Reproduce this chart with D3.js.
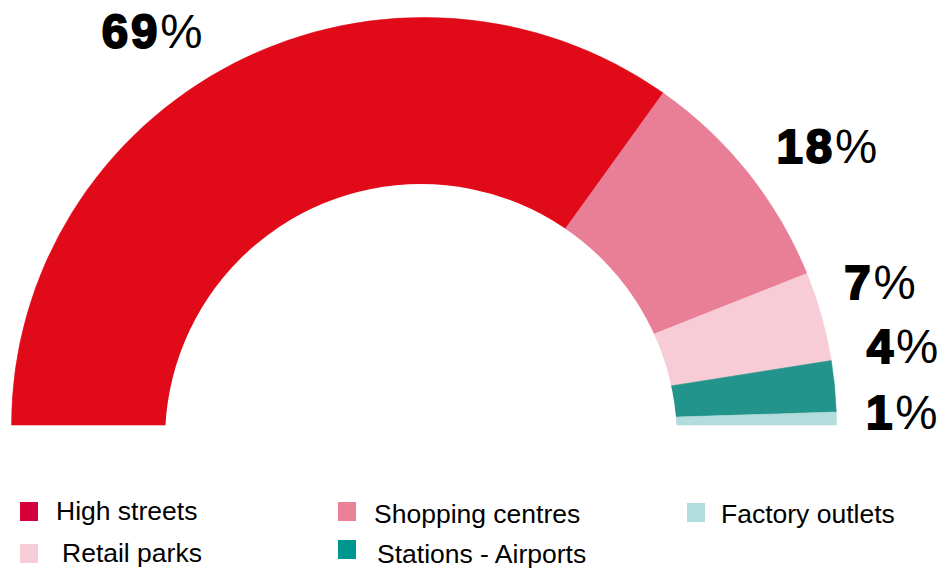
<!DOCTYPE html>
<html>
<head>
<meta charset="utf-8">
<script src="https://cdn.jsdelivr.net/npm/d3@7"></script>
<style>
  html, body { margin: 0; padding: 0; background: #ffffff; }
  svg { display: block; }
  text { font-family: "Liberation Sans", Arial, Helvetica, sans-serif; }
</style>
</head>
<body>
<svg id="chart" width="945" height="570"></svg>
<script>
// Store locations by share of sales (%)
const categories = ["High streets", "Shopping centres", "Retail parks", "Stations - Airports", "Factory outlets"];
const shares = [69, 18, 7, 4, 1];
const sliceColors = ["#e10a19", "#e97f97", "#f8ccd6", "#23948c", "#b3dcdc"];
const legendColors = ["#d6003a", "#eb8196", "#f8ccd7", "#009690", "#b3dede"];

// Legend reading order (row by row)
const legendOrder = ["High streets", "Shopping centres", "Factory outlets", "Retail parks", "Stations - Airports"];

// ---- layout ----
const W = 945, H = 570;
const cx = 424, cy = 425;
const outerR = 410;
const stretchX = 1.006, stretchY = 0.994;
const hole = { x: 421, y: 440, r: 256 };
const labelNudgeDeg = [-7.3, 3.5, -2.0, -3.95, -0.7];
const labelRadii = [479, 490, 478, 485, 478];

// legend grid: swatch and text anchors
const legendLayout = [
  { sx: 20,  sy: 502, tx: 56,  ty: 520 },
  { sx: 338, sy: 502, tx: 374, ty: 523 },
  { sx: 687, sy: 503, tx: 721, ty: 523 },
  { sx: 20,  sy: 544, tx: 62,  ty: 562 },
  { sx: 338, sy: 540, tx: 377, ty: 563 }
];

const svg = d3.select("#chart");

const data = categories.map((c, i) => ({ name: c, value: shares[i], color: sliceColors[i], i }));

const pie = d3.pie()
  .sort(null)
  .value(d => d.value)
  .startAngle(-Math.PI / 2)
  .endAngle(Math.PI / 2)
  .padAngle(0);

const arcs = pie(data);

// mask cuts the doughnut hole
const defs = svg.append("defs");
const mask = defs.append("mask").attr("id", "holeMask").attr("maskUnits", "userSpaceOnUse")
  .attr("x", 0).attr("y", 0).attr("width", W).attr("height", H);
mask.append("rect").attr("width", W).attr("height", H).attr("fill", "#fff");
mask.append("circle").attr("cx", hole.x).attr("cy", hole.y).attr("r", hole.r).attr("fill", "#000");

const arc = d3.arc().innerRadius(0).outerRadius(outerR);

const ring = svg.append("g").attr("mask", "url(#holeMask)")
  .append("g")
  .attr("transform", `translate(${cx},${cy}) scale(${stretchX},${stretchY})`);

ring.selectAll("path")
  .data(arcs)
  .join("path")
  .attr("d", arc)
  .attr("fill", d => d.data.color)
  .attr("stroke", d => d.data.color)
  .attr("stroke-width", 0.6);

// percentage labels placed around the ring
const labels = svg.append("g");
arcs.forEach((a, i) => {
  const mid = (a.startAngle + a.endAngle) / 2 + labelNudgeDeg[i] * Math.PI / 180;
  const r = labelRadii[i];
  const x = cx + Math.sin(mid) * r;
  const y = cy - Math.cos(mid) * r;
  const t = labels.append("text")
    .attr("x", x)
    .attr("y", y + 17)
    .attr("text-anchor", "middle")
    .attr("font-size", 47.5)
    .attr("fill", "#000");
  t.append("tspan")
    .attr("font-weight", 700)
    .attr("stroke", "#000")
    .attr("stroke-width", 2)
    .attr("letter-spacing", 2.8)
    .text(a.data.value);
  t.append("tspan")
    .attr("font-weight", 400)
    .text("%");
});

// legend
const legend = svg.append("g");
legendOrder.forEach((name, k) => {
  const i = categories.indexOf(name);
  const L = legendLayout[k];
  legend.append("rect")
    .attr("x", L.sx).attr("y", L.sy)
    .attr("width", 18).attr("height", 19)
    .attr("fill", legendColors[i]);
  legend.append("text")
    .attr("x", L.tx).attr("y", L.ty)
    .attr("font-size", 26.5)
    .attr("fill", "#000")
    .text(name);
});
</script>
</body>
</html>
